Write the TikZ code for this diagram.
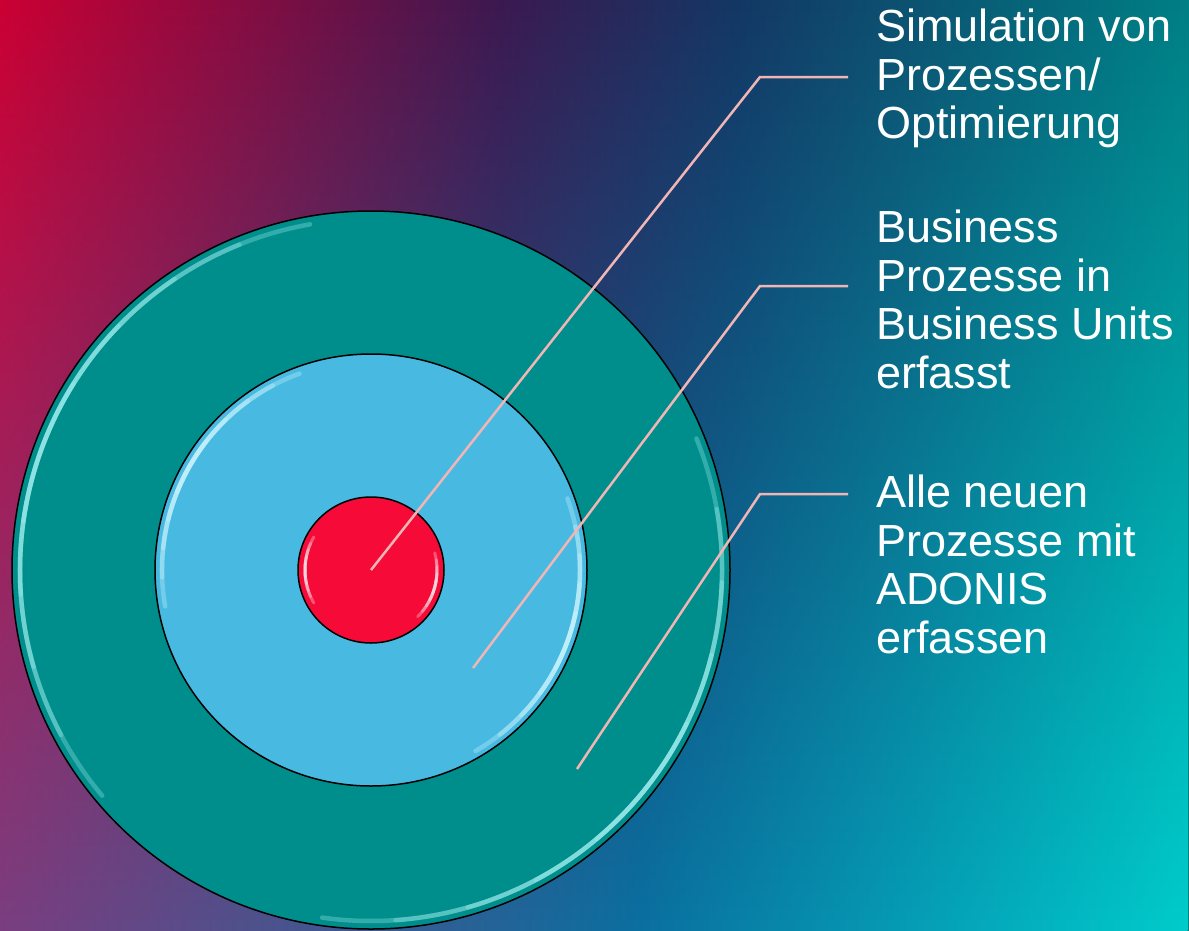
\documentclass[tikz,border=0pt]{standalone}
\usepackage{fontspec}
\setmainfont{Liberation Sans}
\usetikzlibrary{fadings}

\definecolor{bgRed}{RGB}{204,0,51}
\definecolor{bgPlum}{RGB}{60,25,80}
\definecolor{bgNavy}{RGB}{20,55,100}
\definecolor{bgTeal}{RGB}{0,127,133}
\definecolor{bgMauve}{RGB}{122,62,128}
\definecolor{bgBlue}{RGB}{10,112,160}
\definecolor{bgCyan}{RGB}{0,204,204}
\definecolor{ringTeal}{RGB}{0,142,140}
\definecolor{ringSky}{RGB}{72,186,226}
\definecolor{ringRed}{RGB}{245,10,56}
\definecolor{tealGloss}{RGB}{170,245,245}
\definecolor{skyGloss}{RGB}{215,250,255}
\definecolor{leader}{RGB}{242,181,181}

\pgfdeclarehorizontalshading{bgtop}{100bp}{color(0bp)=(bgRed); color(25bp)=(bgRed); color(46bp)=(bgPlum); color(56bp)=(bgNavy); color(75bp)=(bgTeal); color(100bp)=(bgTeal)}
\pgfdeclarehorizontalshading{bgbottom}{100bp}{color(0bp)=(bgMauve); color(25bp)=(bgMauve); color(52bp)=(bgBlue); color(75bp)=(bgCyan); color(100bp)=(bgCyan)}
\tikzfading[name=fadeup, top color=transparent!100, middle color=transparent!78, bottom color=transparent!0]

\begin{document}
\begin{tikzpicture}[x=1pt, y=-1pt,
	rim/.style={draw=black, line width=1.5pt},
	gloss/.style={draw=#1, line width=4.5pt, opacity=0.3, line cap=round},
	leaderline/.style={draw=leader, line width=2.5pt},
	lbl/.style={anchor=north west, align=left, inner xsep=28pt, inner ysep=0pt, text=white, font=\fontsize{45}{48.5}\selectfont}]
	\useasboundingbox (0,0) rectangle (1189,930);
	% background
	\shade[shading=bgtop] (0,0) rectangle (1189,930);
	\shade[shading=bgbottom, path fading=fadeup] (0,0) rectangle (1189,930);
	\coordinate (hub) at (371,570);
	% rings
	\fill[ringTeal] (hub) circle (359);
	\draw[rim] (hub) circle (359);
	\foreach \s in {12,24,36,48,60}
	{ \draw[gloss=tealGloss] (hub) ++(200-\s:351) arc[start angle=200-\s, end angle=200+\s, radius=351];
	  \draw[gloss=tealGloss] (hub) ++(38-\s:351) arc[start angle=38-\s, end angle=38+\s, radius=351];
	}
	\fill[ringSky] (hub) circle (216);
	\draw[rim] (hub) circle (216);
	\foreach \s in {8,16,24,32,40}
	{ \draw[gloss=skyGloss] (hub) ++(210-\s:209) arc[start angle=210-\s, end angle=210+\s, radius=209];
	  \draw[gloss=skyGloss] (hub) ++(20-\s:209) arc[start angle=20-\s, end angle=20+\s, radius=209];
	}
	\fill[ringRed] (hub) circle (73);
	\draw[rim] (hub) circle (73);
	\foreach \s in {6,12,18,24,30}
	{ \draw[gloss=white, line width=3pt] (hub) ++(180-\s:66) arc[start angle=180-\s, end angle=180+\s, radius=66];
	  \draw[gloss=white, line width=3pt] (hub) ++(15-\s:66) arc[start angle=15-\s, end angle=15+\s, radius=66];
	}
	% labels
	\node[lbl] (lblSim) at (848,9) {Simulation von\\Prozessen/\\Optimierung};
	\node[lbl] (lblBiz) at (848,210) {Business\\Prozesse in\\Business Units\\erfasst};
	\node[lbl] (lblNew) at (848,475) {Alle neuen\\Prozesse mit\\ADONIS\\erfassen};
	% leader lines
	\coordinate (kneeSim) at (760,77);
	\coordinate (dotBiz) at (473,668);
	\coordinate (kneeBiz) at (760,286);
	\coordinate (dotNew) at (577,769);
	\coordinate (kneeNew) at (760,494);
	\draw[leaderline] (hub) -- (kneeSim) -- (kneeSim -| lblSim.west);
	\draw[leaderline] (dotBiz) -- (kneeBiz) -- (kneeBiz -| lblBiz.west);
	\draw[leaderline] (dotNew) -- (kneeNew) -- (kneeNew -| lblNew.west);
\end{tikzpicture}
\end{document}
